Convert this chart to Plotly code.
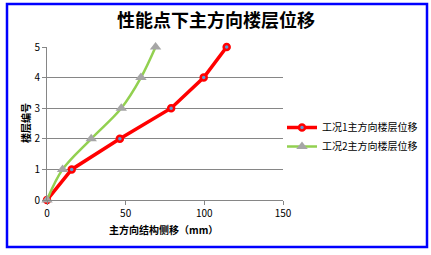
import plotly.graph_objects as go

floors = [0, 1, 2, 3, 4, 5]
case1_disp = [0, 15.7, 46.3, 78.9, 99.6, 114.2]
case2_disp = [0, 9.9, 28.1, 47.2, 59.7, 69.0]
name1 = "工况1主方向楼层位移"
name2 = "工况2主方向楼层位移"
title = "性能点下主方向楼层位移"
xtitle = "主方向结构侧移（mm）"
ytitle = "楼层编号"

W, H = 431, 255
L, R, T, B = 47, 148, 47, 55
pw, ph = W - L - R, H - T - B

def px(x):
    return (x - L) / pw

def py(y):
    return (H - B - y) / ph

font = "Noto Sans CJK SC, Microsoft YaHei, sans-serif"

fig = go.Figure()
fig.add_trace(go.Scatter(
    x=case1_disp, y=floors, name=name1, mode="lines+markers",
    line=dict(color="#FF0000", width=3.5), cliponaxis=False,
    marker=dict(symbol="circle", size=6, color="#5B9BD5",
                line=dict(color="#FF0000", width=2.5)),
))
fig.add_trace(go.Scatter(
    x=case2_disp, y=floors, name=name2, mode="lines+markers",
    line=dict(color="#92D050", width=2.5, shape="spline"), cliponaxis=False,
    marker=dict(symbol="triangle-up", size=10, color="#A6A6A6"),
))

fig.update_layout(
    width=W, height=H,
    margin=dict(l=L, r=R, t=T, b=B, autoexpand=False),
    paper_bgcolor="white", plot_bgcolor="white",
    font=dict(family=font, size=10, color="#000000"),
    showlegend=True,
    legend=dict(x=px(282), xanchor="left", y=py(137), yanchor="middle",
                font=dict(size=10, color="#000000"), bgcolor="rgba(0,0,0,0)",
                tracegroupgap=0, itemwidth=30),
    title=dict(text="<b>" + title + "</b>", x=216 / W, xanchor="center",
               xref="container", y=1 - 21 / H, yanchor="middle",
               font=dict(size=18, color="#000000", family=font)),
    xaxis=dict(range=[0, 150], tickvals=[0, 50, 100, 150], showgrid=False,
               showline=True, linecolor="#868686", linewidth=1,
               ticks="outside", ticklen=4, tickcolor="#868686",
               tickfont=dict(size=10, color="#000000"), zeroline=False,
               fixedrange=True),
    yaxis=dict(range=[0, 5], tickvals=[0, 1, 2, 3, 4, 5], showgrid=True,
               gridcolor="#868686", gridwidth=1,
               showline=True, linecolor="#868686", linewidth=1,
               ticks="outside", ticklen=4, tickcolor="#868686",
               tickfont=dict(size=10, color="#000000"), zeroline=False,
               fixedrange=True),
    annotations=[
        dict(text="<b>" + xtitle + "</b>", xref="paper", yref="paper",
             x=px(163), y=py(229), xanchor="center", yanchor="middle",
             showarrow=False, font=dict(size=10, color="#000000")),
        dict(text="<b>" + ytitle + "</b>", xref="paper", yref="paper",
             x=px(25), y=py(123), xanchor="center", yanchor="middle",
             textangle=-90, showarrow=False, font=dict(size=10, color="#000000")),
    ],
    shapes=[
        dict(type="rect", xref="paper", yref="paper",
             x0=px(7), x1=px(427), y0=py(247), y1=py(4),
             line=dict(color="#0000FF", width=2.5), fillcolor="rgba(0,0,0,0)",
             layer="above"),
    ],
)

fig.write_html("out.html")
